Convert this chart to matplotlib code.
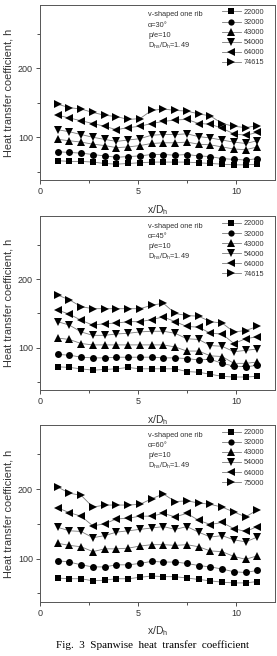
import matplotlib.pyplot as plt

plt.rcParams['font.family'] = ['Liberation Sans', 'DejaVu Sans']

# spanwise positions x/Dh
x_pos = [0.9, 1.5, 2.1, 2.7, 3.3, 3.9, 4.5, 5.1, 5.7,
         6.3, 6.9, 7.5, 8.1, 8.7, 9.3, 9.9, 10.5, 11.1]

re_a30 = ["22000", "32000", "43000", "54000", "64000", "74615"]
re_a45 = ["22000", "32000", "43000", "54000", "64000", "74615"]
re_a60 = ["22000", "32000", "43000", "54000", "64000", "75000"]

# h values, one row per Re
h_a30 = [
    [66, 65, 65, 64, 62, 61, 62, 63, 64, 64, 64, 64, 63, 62, 61, 60, 60, 61],
    [79, 78, 77, 75, 73, 71, 72, 73, 75, 75, 74, 75, 73, 72, 69, 68, 67, 69],
    [97, 95, 93, 90, 88, 85, 86, 88, 91, 92, 92, 93, 90, 89, 86, 83, 82, 86],
    [111, 108, 104, 100, 97, 94, 96, 98, 103, 104, 104, 105, 101, 99, 96, 93, 91, 95],
    [132, 128, 124, 120, 116, 111, 114, 116, 120, 123, 125, 126, 120, 119, 113, 105, 103, 107],
    [148, 143, 141, 136, 132, 130, 126, 127, 139, 141, 139, 138, 134, 131, 120, 116, 114, 117],
]

h_a45 = [
    [72, 71, 69, 67, 68, 69, 71, 69, 69, 69, 69, 65, 64, 61, 58, 57, 57, 58],
    [90, 89, 86, 85, 85, 86, 86, 86, 86, 85, 85, 84, 82, 83, 77, 73, 72, 74],
    [114, 112, 106, 104, 104, 104, 104, 104, 104, 104, 101, 95, 95, 88, 87, 77, 77, 79],
    [138, 133, 123, 118, 118, 120, 121, 123, 124, 124, 121, 113, 112, 103, 102, 94, 96, 98],
    [155, 149, 140, 133, 135, 136, 138, 138, 141, 145, 138, 131, 130, 121, 120, 106, 113, 116],
    [177, 170, 160, 157, 157, 157, 157, 157, 162, 165, 150, 147, 146, 138, 136, 123, 125, 131],
]

h_a60 = [
    [72, 71, 71, 68, 69, 71, 71, 73, 75, 74, 74, 72, 70, 68, 66, 65, 65, 67],
    [97, 95, 91, 88, 88, 91, 91, 93, 96, 95, 95, 93, 90, 88, 85, 81, 80, 83],
    [122, 119, 117, 110, 114, 114, 115, 118, 120, 120, 119, 120, 117, 111, 110, 103, 99, 104],
    [145, 140, 139, 130, 133, 138, 140, 142, 144, 146, 142, 146, 138, 131, 133, 127, 124, 131],
    [173, 166, 161, 147, 150, 157, 158, 161, 161, 165, 160, 165, 155, 149, 152, 143, 139, 146],
    [203, 194, 191, 174, 177, 177, 177, 178, 186, 193, 182, 183, 180, 178, 174, 167, 160, 170],
]

angles = ["30", "45", "60"]
markers = ["s", "o", "^", "v", "<", ">"]

fig = plt.figure(figsize=(2.77, 6.56), dpi=100)

# axes boxes [left, bottom, width, height] in figure fraction
boxes = [
    [0.1444, 0.7256, 0.8484, 0.2668],
    [0.1444, 0.4055, 0.8484, 0.2645],
    [0.1444, 0.0828, 0.8484, 0.2692],
]

panels = [(h_a30, re_a30), (h_a45, re_a45), (h_a60, re_a60)]

for i, (h_data, re_list) in enumerate(panels):
    ax = fig.add_axes(boxes[i])

    for j in range(len(re_list)):
        ms = 5.0 if markers[j] in ("s", "o") else 6.2
        ax.plot(
            x_pos,
            h_data[j],
            marker=markers[j],
            markersize=ms,
            color="#7a7a7a",
            markerfacecolor="black",
            markeredgecolor="black",
            markeredgewidth=0,
            linestyle="-",
            linewidth=0.6,
            label=re_list[j],
        )

    ax.set_xlim(0, 12)
    ax.set_ylim(38, 292)
    ax.set_xticks([0, 5, 10])
    ax.set_xticks([2.5, 7.5], minor=True)
    ax.set_yticks([100, 200])
    ax.set_yticks([50, 150, 250], minor=True)
    ax.tick_params(axis="both", which="major", labelsize=6.5,
                   length=3, width=0.6, pad=2, colors="#333333")
    ax.tick_params(axis="both", which="minor", length=2, width=0.6,
                   colors="#333333")
    for spine in ax.spines.values():
        spine.set_linewidth(0.7)
        spine.set_color("#555555")

    ax.set_xlabel("x/D$_\\mathregular{h}$", fontsize=7.5, labelpad=5,
                  color="#333333")
    ax.set_ylabel("Heat transfer coefficient, h", fontsize=7.8,
                  labelpad=3, color="#333333")

    # notes at top of the box
    notes = [
        "v-shaped one rib",
        "\u03b1=" + angles[i] + "\u00b0",
        "p/e=10",
        "D$_\\mathregular{hs}$/D$_\\mathregular{h}$=1.49",
    ]
    for k, line in enumerate(notes):
        ax.text(0.46, 0.943 - k * 0.058, line, transform=ax.transAxes,
                fontsize=5.3, va="center", ha="left", color="#333333")

    leg = ax.legend(
        loc="upper right",
        bbox_to_anchor=(0.955, 0.978),
        frameon=False,
        fontsize=5.3,
        handlelength=2.6,
        handletextpad=0.4,
        labelspacing=0.4,
        borderpad=0,
        borderaxespad=0,
        markerscale=0.9,
    )
    for t in leg.get_texts():
        t.set_color("#333333")

fig.text(0.55, 0.017, "Fig.  3  Spanwise  heat  transfer  coefficient",
         fontsize=8, ha="center", va="center",
         family=["Liberation Serif", "DejaVu Serif"])

plt.savefig("out.png", dpi=100)
